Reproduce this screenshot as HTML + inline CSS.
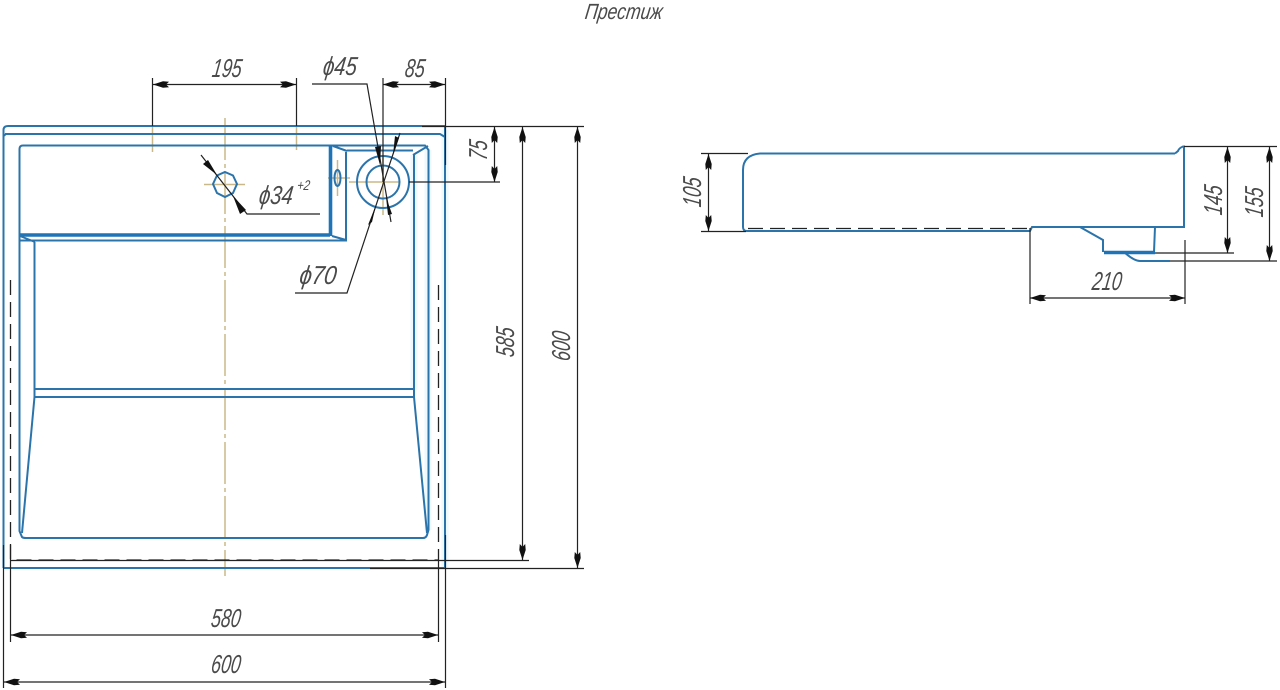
<!DOCTYPE html>
<html><head><meta charset="utf-8"><style>
html,body{margin:0;padding:0;background:#fff;width:1280px;height:690px;overflow:hidden}
svg{display:block}
text{font-family:"Liberation Sans",sans-serif;font-style:italic;font-size:26px;fill:#4a4a4a;text-anchor:middle}
.b{fill:none;stroke:#2b74ab;stroke-width:2}
.B{fill:none;stroke:#1f74b8;stroke-width:3.600}
.k{fill:none;stroke:#222;stroke-width:1.200}
.d{fill:none;stroke:#222;stroke-width:1.300;stroke-dasharray:15 7}
.c{fill:none;stroke:#c9b98a;stroke-width:1.500}
.h{fill:none;stroke:#eef9fd;stroke-width:7}
</style></head><body>
<svg width="1280" height="690" viewBox="0 0 1280 690" xmlns="http://www.w3.org/2000/svg">
<defs><marker id="a" viewBox="0 0 16 7" refX="16" refY="3.500" markerWidth="16" markerHeight="7" markerUnits="userSpaceOnUse" orient="auto-start-reverse"><path d="M16 3.500 L6 .3 L0 .8 L3 3.500 L0 6.200 L6 6.700Z" fill="#111"/></marker></defs>

<path class="h" d="M445 130V568M428 150V530M414 155V390"/>

<path class="c" stroke-dasharray="42 4 4 4" d="M225 118V576"/>
<path class="c" d="M204 184.500H245M349 182H400M383 155V215M328 178H350M337.500 160V196"/>
<path class="c" d="M152.500 126V152M296.500 126V150"/>

<path class="b" d="M3.500 568V130Q3.500 126 8 126H445V568H3.500"/>
<path class="b" d="M5 134H440L445 137M3.500 136L6 134"/>
<path class="b" d="M330 145.500H23Q19.500 145.500 19.500 149V531L22 537Q23 538 26 538H423Q426 538 427 535L428.500 530V150L425 145.500H330"/>
<path class="B" d="M20 235H330M330.500 146V236"/>
<path class="b" d="M20 240.500H346V152M20 236L35 242M34.500 242V397L22 533M414 155V397L427 533"/>
<path class="b" d="M333 146L347 151M428 146L413 155M347 150.500H413M332 236L346 240"/>
<path class="b" d="M34 389H415M34 397H415"/>
<polygon class="b" points="225,172 233,175.500 237,184 233,193 225,197 217,193 213,184 217,175.500"/>
<circle class="b" cx="383" cy="182" r="26"/>
<circle class="b" cx="383" cy="182" r="16.500"/>
<ellipse class="b" cx="337.500" cy="178" rx="3" ry="8"/>

<path class="d" d="M10.500 280V560H438.500V280"/>

<path class="k" d="M152.500 78V126M296.500 78V126M383 78V182M445.500 78V165"/>
<path class="k" d="M153 84.500H296" marker-start="url(#a)" marker-end="url(#a)"/>
<path class="k" d="M383 84.500H445" marker-start="url(#a)" marker-end="url(#a)"/>
<path class="k" d="M422 126.500H584M370 568.500H584M10 560.500H529M409 182H500"/>
<path class="k" d="M494.500 127V182" marker-start="url(#a)" marker-end="url(#a)"/>
<path class="k" d="M522.500 127V560" marker-start="url(#a)" marker-end="url(#a)"/>
<path class="k" d="M577.500 127V568" marker-start="url(#a)" marker-end="url(#a)"/>
<path class="k" d="M10.500 545V642M438.500 560V642M3.500 545V688M445.500 535V688"/>
<path class="k" d="M11 635H438" marker-start="url(#a)" marker-end="url(#a)"/>
<path class="k" d="M4 682H445" marker-start="url(#a)" marker-end="url(#a)"/>

<path class="k" d="M201 155L247 214H320"/>
<polygon fill="#111" points="217,175 203,164 208,160"/>
<polygon fill="#111" points="233,196 246,210 240,214"/>
<path class="k" d="M312 84H367L391 222"/>
<polygon fill="#111" points="380,165 375,147 381,146"/>
<polygon fill="#111" points="386,197 388,215 392,214"/>
<path class="k" d="M400 133L347 293H295"/>
<polygon fill="#111" points="393,155 395,136 399,138"/>
<polygon fill="#111" points="376,205 368,225 372,222"/>

<path class="b" d="M1175 153.500H760Q743 155 743 170V227Q743 231 747 231H1030L1032 227H1184V146.500L1183 146.500Q1179 148 1178 151L1175 153.500"/>
<path class="d" d="M748 228.500H1030"/>
<path class="b" d="M1080 227L1103 240V252M1155 227L1154 252M1124 252Q1134 261 1140 261H1170"/>
<path class="B" d="M1104 252.500H1155"/>
<path class="k" d="M701 153.500H748M701 231.500H746M1184 146.500H1277M1155 253H1234M1170 261H1277M1185 240V304M1030 228V304"/>
<path class="k" d="M708.500 154V231" marker-start="url(#a)" marker-end="url(#a)"/>
<path class="k" d="M1227.500 147V253" marker-start="url(#a)" marker-end="url(#a)"/>
<path class="k" d="M1269.500 147V261" marker-start="url(#a)" marker-end="url(#a)"/>
<path class="k" d="M1030 298H1185" marker-start="url(#a)" marker-end="url(#a)"/>

<text transform="translate(623,19) skewX(-8) scale(.8,1)" style="font-size:22px">Престиж</text>
<text transform="translate(226,77) skewX(-8) scale(.68,1)">195</text>
<text transform="translate(339,75) skewX(-8) scale(.78,1)">ϕ45</text>
<text transform="translate(414,77) skewX(-8) scale(.68,1)">85</text>
<text transform="translate(275,204) skewX(-8) scale(.78,1)">ϕ34</text>
<text transform="translate(303,190) skewX(-8) scale(.8,1)" style="font-size:14px">+2</text>
<text transform="translate(317,284) skewX(-8) scale(.85,1)">ϕ70</text>
<text transform="translate(487,151) rotate(-90) skewX(-8) scale(.68,1)">75</text>
<text transform="translate(514,343) rotate(-90) skewX(-8) scale(.68,1)">585</text>
<text transform="translate(570,347) rotate(-90) skewX(-8) scale(.68,1)">600</text>
<text transform="translate(225,627) skewX(-8) scale(.68,1)">580</text>
<text transform="translate(225,673) skewX(-8) scale(.68,1)">600</text>
<text transform="translate(701,193) rotate(-90) skewX(-8) scale(.68,1)">105</text>
<text transform="translate(1222,201) rotate(-90) skewX(-8) scale(.68,1)">145</text>
<text transform="translate(1263,203) rotate(-90) skewX(-8) scale(.68,1)">155</text>
<text transform="translate(1106,290) skewX(-8) scale(.68,1)">210</text>
</svg>
</body></html>
